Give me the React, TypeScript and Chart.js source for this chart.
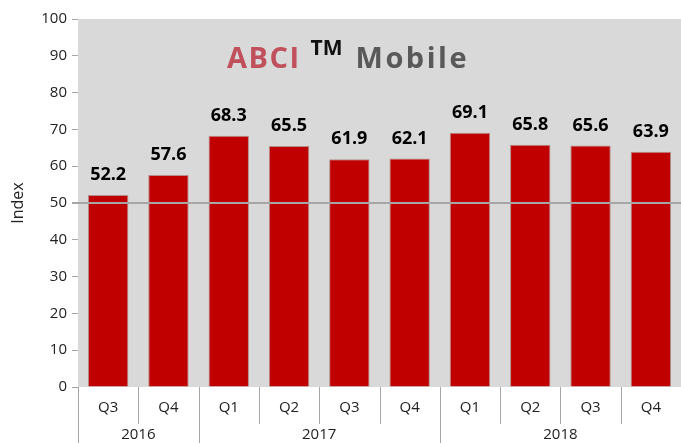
import React, { useEffect, useRef } from "react";
import { Chart, registerables } from "chart.js";

Chart.register(...registerables);

const quarters = ["Q3", "Q4", "Q1", "Q2", "Q3", "Q4", "Q1", "Q2", "Q3", "Q4"];
const years = ["2016", "2017", "2018"];
const yearSpans = [2, 4, 4];
const values = [52.2, 57.6, 68.3, 65.5, 61.9, 62.1, 69.1, 65.8, 65.6, 63.9];
const referenceLine = 50;

const customPlugin = {
  id: "custom",
  beforeDatasetsDraw(chart: any) {
    const { ctx, chartArea } = chart;
    ctx.save();
    ctx.fillStyle = "#d9d9d9";
    ctx.fillRect(chartArea.left, chartArea.top, chartArea.right - chartArea.left, chartArea.bottom - chartArea.top);
    ctx.restore();
  },
  afterDatasetsDraw(chart: any) {
    const { ctx, chartArea, scales } = chart;
    const x = scales.x;
    const y = scales.y;
    ctx.save();
    const yr = Math.round(y.getPixelForValue(referenceLine));
    ctx.strokeStyle = "#a6a6a6";
    ctx.lineWidth = 2;
    ctx.beginPath();
    ctx.moveTo(chartArea.left - 6, yr);
    ctx.lineTo(chartArea.right, yr);
    ctx.stroke();

    const meta = chart.getDatasetMeta(0);
    ctx.fillStyle = "#000";
    ctx.font = "bold 18px 'Open Sans', sans-serif";
    ctx.textAlign = "center";
    ctx.textBaseline = "bottom";
    meta.data.forEach((bar: any, i: number) => {
      ctx.fillText(values[i].toFixed(1), bar.x, bar.y - 11);
    });

    const n = quarters.length;
    const step = (chartArea.right - chartArea.left) / n;
    const bottom = chartArea.bottom;
    ctx.strokeStyle = "#a6a6a6";
    ctx.lineWidth = 1;
    ctx.fillStyle = "#222";
    ctx.font = "15px 'Open Sans', sans-serif";
    ctx.textBaseline = "middle";
    for (let i = 0; i < n; i++) {
      ctx.fillText(quarters[i], x.getPixelForValue(i), bottom + 21);
    }
    let idx = 0;
    const yearBoundaries = new Set<number>([0]);
    yearSpans.forEach((s) => {
      idx += s;
      yearBoundaries.add(idx);
    });
    for (let i = 0; i < n; i++) {
      const px = Math.round(chartArea.left + i * step) + 0.5;
      ctx.beginPath();
      ctx.moveTo(px, bottom);
      ctx.lineTo(px, yearBoundaries.has(i) ? 443 : bottom + 37);
      ctx.stroke();
    }
    let start = 0;
    years.forEach((yl, k) => {
      const end = start + yearSpans[k];
      const cx = chartArea.left + ((start + end) / 2) * step;
      ctx.fillText(yl, cx, bottom + 48);
      start = end;
    });

    ctx.textAlign = "left";
    ctx.textBaseline = "alphabetic";
    let tx = 227;
    const base = 68;
    (ctx as any).letterSpacing = "1.5px";
    ctx.font = "bold 29px 'Open Sans', sans-serif";
    ctx.fillStyle = "#c0505b";
    ctx.fillText("ABCI", tx, base);
    tx += ctx.measureText("ABCI").width + 10;
    (ctx as any).letterSpacing = "0px";
    ctx.font = "bold 21px 'Open Sans', sans-serif";
    ctx.fillStyle = "#111";
    ctx.fillText("TM", tx, base - 13);
    tx += ctx.measureText("TM").width + 13;
    (ctx as any).letterSpacing = "2.5px";
    ctx.font = "bold 29px 'Open Sans', sans-serif";
    ctx.fillStyle = "#595959";
    ctx.fillText("Mobile", tx, base);
    (ctx as any).letterSpacing = "0px";
    ctx.restore();
  },
};

export default function App() {
  const ref = useRef<HTMLCanvasElement | null>(null);
  useEffect(() => {
    document.body.style.margin = "0";
    const canvas = ref.current!;
    const chart = new Chart(canvas, {
      type: "bar",
      data: {
        labels: quarters,
        datasets: [
          {
            data: values,
            backgroundColor: "#c00000",
            borderColor: "rgba(170,120,120,0.8)",
            borderWidth: 1,
            barPercentage: 0.67,
            categoryPercentage: 1,
          },
        ],
      },
      options: {
        responsive: false,
        animation: false,
        devicePixelRatio: 1,
        layout: { padding: { top: 19, right: 0, left: 0, bottom: 0 } },
        plugins: {
          legend: { display: false },
          tooltip: { enabled: false },
          title: { display: false },
        },
        scales: {
          x: {
            grid: { display: false },
            border: { display: false },
            ticks: { display: false },
            afterFit(scale: any) {
              scale.height = 56;
            },
          },
          y: {
            min: 0,
            max: 100,
            ticks: {
              stepSize: 10,
              color: "#222",
              font: { size: 15, family: "'Open Sans', sans-serif" },
              padding: 5,
            },
            grid: {
              drawOnChartArea: false,
              drawTicks: true,
              tickLength: 6,
              color: "#a6a6a6",
            },
            border: { display: true, color: "#a6a6a6", width: 1 },
            title: {
              display: true,
              text: "Index",
              color: "#222",
              font: { size: 16, family: "'Open Sans', sans-serif" },
              padding: { top: 9, bottom: 0 },
            },
            afterFit(scale: any) {
              scale.width = 78;
            },
          },
        },
      },
      plugins: [customPlugin],
    });
    return () => chart.destroy();
  }, []);
  return <canvas ref={ref} width={681} height={443} style={{ display: "block" }} />;
}
